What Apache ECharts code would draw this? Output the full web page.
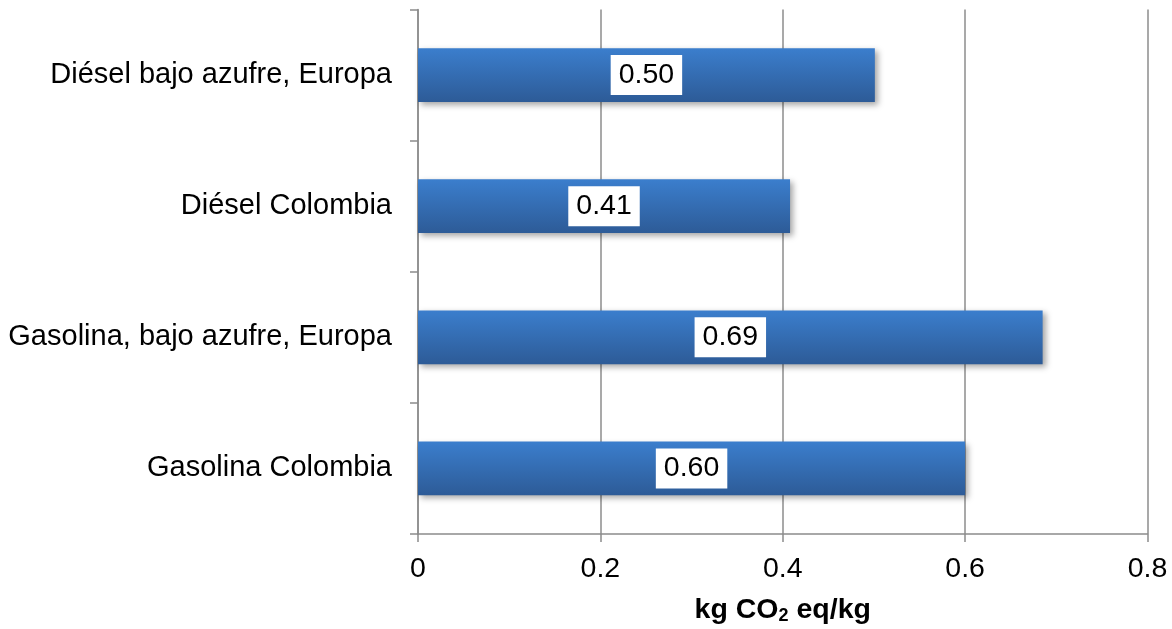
<!DOCTYPE html>
<html>
<head>
<meta charset="utf-8">
<script src="https://cdn.jsdelivr.net/npm/echarts@6/dist/echarts.min.js"></script>
<style>
html,body{margin:0;padding:0;background:#fff;}
#chart{width:1172px;height:629px;}
</style>
</head>
<body>
<div id="chart"></div>
<script>
const categories = ['Diésel bajo azufre, Europa', 'Diésel Colombia', 'Gasolina, bajo azufre, Europa', 'Gasolina Colombia'];
const values = [0.501, 0.408, 0.685, 0.600];
const valueLabels = ['0.50', '0.41', '0.69', '0.60'];
const xTicks = [0, 0.2, 0.4, 0.6, 0.8];

const chart = echarts.init(document.getElementById('chart'));
const FONT = '"Liberation Sans", Arial, sans-serif';
chart.setOption({
  animation: false,
  textStyle: { fontFamily: FONT },
  grid: { left: 418, right: 24.5, top: 9.5, bottom: 95, containLabel: false, outerBoundsMode: 'none' },
  xAxis: {
    type: 'value',
    min: xTicks[0],
    max: xTicks[xTicks.length - 1],
    interval: 0.2,
    axisLine: { show: true, lineStyle: { color: '#8c8c8c', width: 1.5 } },
    axisTick: { show: true, length: 8, lineStyle: { color: '#8c8c8c', width: 1.5 } },
    splitLine: { show: true, lineStyle: { color: '#8c8c8c', width: 1.5 } },
    axisLabel: { fontSize: 28.5, color: '#000', margin: 21, fontFamily: FONT,
      formatter: v => String(v) },
    name: '{a|kg CO}{b|2}{a| eq/kg}',
    nameLocation: 'middle',
    nameGap: 61,
    nameTextStyle: {
      rich: {
        a: { fontSize: 28.5, fontWeight: 'bold', color: '#000', fontFamily: FONT, verticalAlign: 'bottom' },
        b: { fontSize: 18, fontWeight: 'bold', color: '#000', fontFamily: FONT, padding: [12, 0, 0, 0] }
      }
    }
  },
  yAxis: {
    type: 'category',
    data: categories,
    inverse: true,
    axisLine: { show: true, lineStyle: { color: '#8c8c8c', width: 1.5 } },
    axisTick: { show: true, length: 8, lineStyle: { color: '#8c8c8c', width: 1.5 } },
    axisLabel: { fontSize: 29, color: '#000', margin: 26, fontFamily: FONT },
    splitLine: { show: false }
  },
  series: [{
    type: 'bar',
    data: values,
    barCategoryGap: '59%',
    itemStyle: {
      color: new echarts.graphic.LinearGradient(0, 0, 0, 1, [
        { offset: 0, color: '#3b7ecd' },
        { offset: 1, color: '#2d5b97' }
      ]),
      shadowColor: 'rgba(0,0,0,0.35)',
      shadowBlur: 6,
      shadowOffsetX: 3,
      shadowOffsetY: 3
    },
    label: {
      show: true,
      position: 'inside',
      formatter: p => valueLabels[p.dataIndex],
      backgroundColor: '#fff',
      padding: [6, 8, 5, 8],
      fontSize: 28.5,
      color: '#000',
      fontFamily: FONT
    }
  }]
});
</script>
</body>
</html>
